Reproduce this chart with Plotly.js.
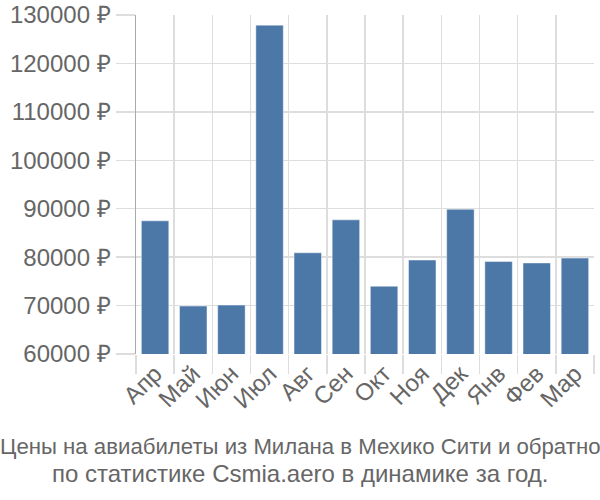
<!DOCTYPE html>
<html>
<head>
<meta charset="utf-8">
<script src="https://cdn.plot.ly/plotly-3.0.1.min.js"></script>
<style>html,body{margin:0;padding:0;background:#fff;}#chart{width:600px;height:500px;}</style>
</head>
<body>
<div id="chart"></div>
<script>
const months = ["Апр","Май","Июн","Июл","Авг","Сен","Окт","Ноя","Дек","Янв","Фев","Мар"];
const prices = [87500, 69900, 70100, 127900, 80900, 87700, 74000, 79400, 89900, 79100, 78800, 79800];
const yTicks = [60000, 70000, 80000, 90000, 100000, 110000, 120000, 130000];
const titleLines = ["Цены на авиабилеты из Милана в Мехико Сити и обратно", "по статистике Csmia.aero в динамике за год."];
const titleSizes = [22.2, 24];

const trace = {
  type: "bar",
  x: months,
  y: prices,
  marker: {color: "#4C78A8", line: {color: "rgba(255,255,255,0.45)", width: 1}},
  hoverinfo: "x+y"
};

const plotTop = 15, plotBottom = 354, plotLeft = 136, plotRight = 594;
const pxToPaperY = py => (plotBottom - py) / (plotBottom - plotTop);
const centerPaperX = (300 - plotLeft) / (plotRight - plotLeft);
const titleCenters = [446, 473];

const layout = {
  width: 600, height: 500,
  margin: {l: plotLeft, r: 600 - plotRight, t: plotTop, b: 500 - plotBottom},
  paper_bgcolor: "#fff", plot_bgcolor: "#fff",
  bargap: 0.28,
  showlegend: false,
  font: {family: "Liberation Sans, Arial, sans-serif", color: "#666"},
  xaxis: {
    type: "category",
    tickson: "boundaries",
    ticks: "outside", ticklen: 19, tickcolor: "#ddd", tickwidth: 1.5,
    showgrid: true, gridcolor: "#ddd", gridwidth: 1.5,
    tickangle: -45,
    tickfont: {size: 24, color: "#666"},
    showline: false, zeroline: false
  },
  yaxis: {
    range: [60000, 130000],
    tickvals: yTicks,
    ticktext: yTicks.map(v => v + " ₽"),
    ticks: "outside", ticklen: 19, tickcolor: "#ddd", tickwidth: 1.5,
    showgrid: true, gridcolor: "#ddd", gridwidth: 1.5,
    showline: true, linecolor: "#aaa", linewidth: 1.5,
    tickfont: {size: 24, color: "#666"},
    zeroline: false
  },
  annotations: titleLines.map((t, i) => ({
    xref: "paper", yref: "paper",
    x: centerPaperX, y: pxToPaperY(titleCenters[i]),
    xanchor: "center", yanchor: "middle",
    showarrow: false,
    text: t,
    font: {size: titleSizes[i], color: "#666"}
  }))
};

Plotly.newPlot("chart", [trace], layout, {displayModeBar: false, staticPlot: true});
</script>
</body>
</html>
